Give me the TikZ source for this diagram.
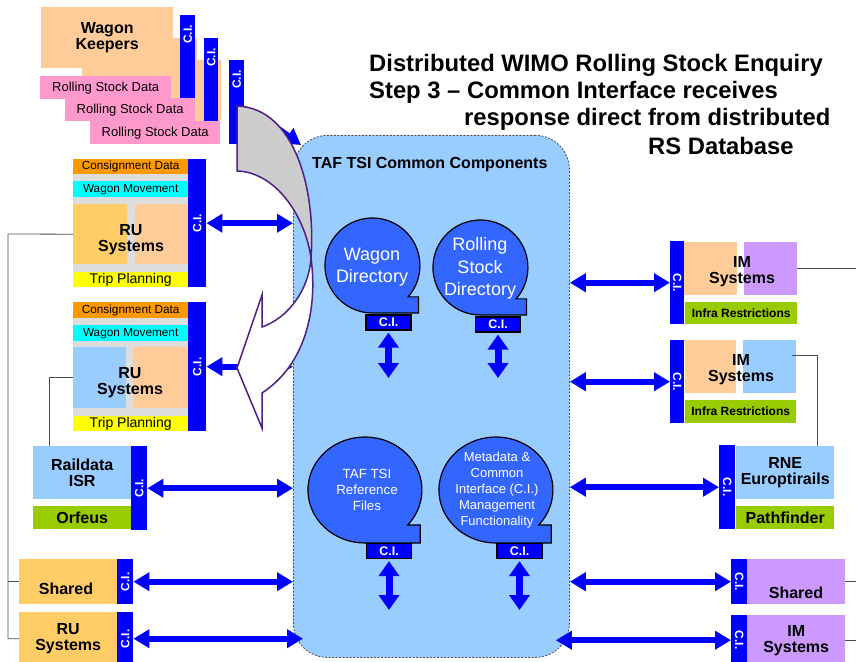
\documentclass[tikz,border=0pt]{standalone}
\usepackage{fontspec}
\setmainfont{Liberation Sans}
\usetikzlibrary{arrows.meta,positioning}
\definecolor{ciblue}{HTML}{0000FF}
\definecolor{peach}{HTML}{FFCC99}
\definecolor{gold}{HTML}{FFCC66}
\definecolor{rspink}{HTML}{FF99CC}
\definecolor{cdorange}{HTML}{FF9900}
\definecolor{wmcyan}{HTML}{00FFFF}
\definecolor{tpyellow}{HTML}{FFFF00}
\definecolor{infragreen}{HTML}{99CC00}
\definecolor{skyblue}{HTML}{99CCFF}
\definecolor{lilac}{HTML}{CC99FF}
\definecolor{bggrey}{HTML}{DDDDDD}
\definecolor{dirblue}{HTML}{3366FF}
\definecolor{curvepurple}{HTML}{4F1F85}
\definecolor{curvegrey}{HTML}{CCCCCC}
\newcommand{\ciup}{\rotatebox{90}{C.I.}}
\newcommand{\cidown}{\rotatebox{-90}{C.I.}}
\newcommand{\dirbubble}[4]{% centre x, centre y, x radius, y radius
  \filldraw[dirshape] ({#1+0.75*#3},{#2+0.66*#4}) arc[start angle=41.3, end angle=-270, x radius=#3, y radius=#4]
    -- ({#1+0.97*#3},{#2+#4}) -- ({#1+0.97*#3},{#2+0.66*#4}) -- cycle;}
\tikzstyle{panel}=[anchor=north west, inner sep=0pt, align=center, text=black]
\tikzstyle{cibar}=[panel, fill=ciblue, text=white, font=\fontsize{12}{12}\selectfont\bfseries]
\tikzstyle{citext}=[inner sep=0pt, text=white, font=\fontsize{12}{12}\selectfont\bfseries]
\tikzstyle{smalltext}=[font=\fontsize{11.8}{13}\selectfont]
\tikzstyle{rstext}=[font=\fontsize{13}{14}\selectfont]
\tikzstyle{boldtext}=[align=center, font=\fontsize{16}{16}\selectfont\bfseries]
\tikzstyle{infratext}=[font=\fontsize{12}{13}\selectfont\bfseries]
\tikzstyle{titletext}=[anchor=west, inner sep=0pt, font=\fontsize{23.8}{26}\selectfont\bfseries]
\tikzstyle{citag}=[draw=black, line width=1.2pt, fill=ciblue, text=white, inner sep=0pt, minimum width=45pt, minimum height=15pt, font=\fontsize{12.5}{12.5}\selectfont\bfseries]
\tikzstyle{dirshape}=[draw=black, line width=1.2pt, fill=dirblue]
\tikzstyle{link}=[draw=black!70, line width=0.8pt]
\tikzstyle{harrow}=[draw=ciblue, line width=6pt, {Triangle[length=16pt,width=18pt]}-{Triangle[length=16pt,width=18pt]}]
\tikzstyle{varrow}=[draw=ciblue, line width=7pt, {Triangle[length=15pt,width=20pt]}-{Triangle[length=15pt,width=20pt]}]
\tikzstyle{turn}=[draw=curvepurple, line width=1.5pt, line join=miter]
\begin{document}
\begin{tikzpicture}[x=1pt, y=-1pt]
\useasboundingbox (0,0) rectangle (856,661);

% heading
\node[titletext] (title1) at (369,65) {Distributed WIMO Rolling Stock Enquiry};
\node[titletext] (title2) at (369,92) {Step 3 – Common Interface receives};
\node[titletext] (title3) at (464,119) {response direct from distributed};
\node[titletext] (title4) at (648,146) {RS Database};

% common components
\node[panel, draw=black!70, dash pattern=on 2pt off 1.5pt, line width=0.8pt, fill=skyblue, rounded corners=34pt, minimum width=276pt, minimum height=522pt] (taf) at (293,135) {};
\node[anchor=west, inner sep=0pt, font=\fontsize{16}{16}\selectfont\bfseries] (taftitle) at (312,165) {TAF TSI Common Components};

\dirbubble{372.5}{265.5}{47.5}{47.5}
\node[text=white, align=center, font=\fontsize{18}{22}\selectfont] (wd) at (372,267) {Wagon\\Directory};
\node[citag] (wdci) at (388.5,322.5) {C.I.};
\dirbubble{480.5}{267.5}{47.5}{47.5}
\node[text=white, align=center, font=\fontsize{18}{22.5}\selectfont] (rsd) at (480,268.5) {Rolling\\Stock\\Directory};
\node[citag] (rsdci) at (498,324.5) {C.I.};
\dirbubble{365}{490}{57}{53}
\node[text=white, align=center, font=\fontsize{13.3}{16}\selectfont] (ref) at (367,490) {TAF TSI\\Reference\\Files};
\node[citag] (refci) at (389,551) {C.I.};
\dirbubble{496}{490}{57}{53}
\node[text=white, align=center, font=\fontsize{13}{16}\selectfont] (meta) at (497,490) {Metadata \&\\Common\\Interface (C.I.)\\Management\\Functionality};
\node[citag] (metaci) at (519.5,551) {C.I.};

\coordinate (wdend) at (388.5,378);
\coordinate (rsdend) at (498,378);
\coordinate (refend) at (389,610);
\coordinate (metaend) at (519.5,610);
\draw[varrow] ([yshift=-2pt]wdci.south) -- (wdend);
\draw[varrow] ([yshift=-2pt]rsdci.south) -- (rsdend);
\draw[varrow] ([yshift=-2pt]refci.south) -- (refend);
\draw[varrow] ([yshift=-2pt]metaci.south) -- (metaend);

% wagon keepers, back to front
\node[panel, fill=peach, minimum width=115pt, minimum height=61pt] (wk3) at (106,60) {};
\node[cibar, minimum width=15pt, minimum height=84pt] (wkci3) at (229,60) {};
\node[citext, below=10pt of wkci3.north] {\ciup};
\node[panel, rstext, fill=rspink, minimum width=130pt, minimum height=23pt] (rs3) at (90,121) {Rolling Stock Data};
\node[panel, fill=peach, minimum width=115pt, minimum height=60pt] (wk2) at (82,38) {};
\node[cibar, minimum width=14pt, minimum height=83pt] (wkci2) at (204,38) {};
\node[citext, below=10pt of wkci2.north] {\ciup};
\node[panel, rstext, fill=rspink, minimum width=130pt, minimum height=23pt] (rs2) at (65,98) {Rolling Stock Data};
\node[panel, boldtext, fill=peach, minimum width=132pt, minimum height=61pt] (wk1) at (41,7) {Wagon\\Keepers};
\node[cibar, minimum width=15pt, minimum height=83pt] (wkci1) at (180,15) {};
\node[citext, below=10pt of wkci1.north] {\ciup};
\node[panel, rstext, fill=rspink, minimum width=131pt, minimum height=23pt] (rs1) at (40,76) {Rolling Stock Data};

% RU systems
\node[panel, fill=bggrey, minimum width=115pt, minimum height=128pt] (ru1bg) at (73,159) {};
\node[panel, smalltext, fill=cdorange, minimum width=115pt, minimum height=15pt] (cd1) at (73,159) {Consignment Data};
\node[panel, smalltext, fill=wmcyan, minimum width=115pt, minimum height=16pt] (wm1) at (73,181) {Wagon Movement};
\node[panel, fill=gold, minimum width=54pt, minimum height=60pt] (ru1a) at (73,204) {};
\node[panel, fill=peach, minimum width=53pt, minimum height=60pt] (ru1b) at (135,204) {};
\node[boldtext] (ru1) at (131,240) {RU\\Systems};
\node[panel, fill=tpyellow, minimum width=115pt, minimum height=15pt, font=\fontsize{14}{14}\selectfont] (tp1) at (73,272) {Trip Planning};
\node[cibar, minimum width=18pt, minimum height=128pt] (ruci1) at (188,159) {\ciup};

\node[panel, fill=bggrey, minimum width=115pt, minimum height=129pt] (ru2bg) at (73,302) {};
\node[panel, smalltext, fill=cdorange, minimum width=115pt, minimum height=16pt] (cd2) at (73,302) {Consignment Data};
\node[panel, smalltext, fill=wmcyan, minimum width=115pt, minimum height=16pt] (wm2) at (73,325) {Wagon Movement};
\node[panel, fill=skyblue, minimum width=53pt, minimum height=61pt] (ru2a) at (73,347) {};
\node[panel, fill=peach, minimum width=55pt, minimum height=61pt] (ru2b) at (133,347) {};
\node[boldtext] (ru2) at (130,383) {RU\\Systems};
\node[panel, fill=tpyellow, minimum width=115pt, minimum height=15pt, font=\fontsize{14}{14}\selectfont] (tp2) at (73,416) {Trip Planning};
\node[cibar, minimum width=18pt, minimum height=129pt] (ruci2) at (188,302) {\ciup};

\node[panel, boldtext, fill=skyblue, minimum width=98pt, minimum height=53pt] (rd) at (33,446) {Raildata\\ISR};
\node[panel, boldtext, fill=infragreen, minimum width=98pt, minimum height=23pt] (orf) at (33,506) {Orfeus};
\node[cibar, minimum width=16pt, minimum height=84pt] (rdci) at (131,446) {\ciup};

\node[panel, fill=gold, minimum width=98pt, minimum height=45pt] (shl) at (19,559) {};
\node[boldtext] (shltext) at (66,589) {Shared};
\node[cibar, minimum width=16pt, minimum height=45pt] (shlci) at (117,559) {\ciup};
\node[panel, boldtext, fill=gold, minimum width=98pt, minimum height=53pt] (rub) at (19,612) {RU\\Systems};
\node[cibar, minimum width=16pt, minimum height=53pt] (rubci) at (117,612) {\ciup};

% IM systems
\node[cibar, minimum width=14pt, minimum height=83pt] (imci1) at (670,241) {\cidown};
\node[panel, fill=peach, minimum width=53pt, minimum height=53pt] (im1a) at (684,242) {};
\node[panel, fill=lilac, minimum width=53pt, minimum height=53pt] (im1b) at (744,242) {};
\node[boldtext] (im1) at (742,272) {IM\\Systems};
\node[panel, infratext, fill=infragreen, minimum width=112pt, minimum height=22pt] (ir1) at (685,302) {Infra Restrictions};

\node[cibar, minimum width=14pt, minimum height=83pt] (imci2) at (670,340) {\cidown};
\node[panel, fill=peach, minimum width=51pt, minimum height=53pt] (im2a) at (685,340) {};
\node[panel, fill=skyblue, minimum width=53pt, minimum height=53pt] (im2b) at (743,340) {};
\node[boldtext] (im2) at (741,370) {IM\\Systems};
\node[panel, infratext, fill=infragreen, minimum width=111pt, minimum height=23pt] (ir2) at (685,400) {Infra Restrictions};

\node[cibar, minimum width=16pt, minimum height=84pt] (rneci) at (719,445) {\cidown};
\node[panel, boldtext, fill=skyblue, minimum width=98pt, minimum height=53pt] (rne) at (736,446) {RNE\\Europtirails};
\node[panel, boldtext, fill=infragreen, minimum width=98pt, minimum height=23pt] (pf) at (736,506) {Pathfinder};

\node[cibar, minimum width=16pt, minimum height=45pt] (shrci) at (731,559) {\cidown};
\node[panel, fill=lilac, minimum width=98pt, minimum height=45pt] (shr) at (747,559) {};
\node[boldtext] (shrtext) at (796,593) {Shared};
\node[cibar, minimum width=16pt, minimum height=50pt] (imbci) at (731,615) {\cidown};
\node[panel, boldtext, fill=lilac, minimum width=98pt, minimum height=50pt] (imb) at (747,615) {IM\\Systems};

% links
\coordinate (lbus) at (8,234);
\draw[link] (ru1a.west) -- (lbus) |- (rub.west);
\draw[link] (lbus |- shl.west) -- (shl.west);
\coordinate (rdtop) at (49,446);
\draw[link] (ru2a.west) -| (rdtop);
\coordinate (rbus) at (856,0);
\draw[link] (im1b.east) -- (im1b.east -| rbus);
\coordinate (im2out) at (792,355);
\coordinate (rnetop) at (817,446);
\draw[link] (im2out) -| (rnetop);
\draw[link] (shr.east) -- (shr.east -| rbus);
\draw[link] (imb.east) -- (imb.east -| rbus);

% interface arrows
\path (wkci3.east) ++(16,14) coordinate (wkstart);
\path (taf.north west) ++(8,10) coordinate (wkend);
\draw[draw=ciblue, line width=6pt, -{Triangle[length=16pt,width=18pt]}] (wkstart) -- (wkend);
\draw[harrow] (ruci1.east) -- (ruci1.east -| taf.west);
\draw[harrow] (ruci2.east) -- (ruci2.east -| taf.west);
\draw[harrow] (rdci.east) -- (rdci.east -| taf.west);
\draw[harrow] (shlci.east) -- (shlci.east -| taf.west);
\path (rubci.east -| taf.west) ++(10,0) coordinate (rubend);
\draw[harrow] (rubci.east) -- (rubend);
\draw[harrow] (taf.east |- imci1.west) -- (imci1.west);
\draw[harrow] (taf.east |- imci2.west) -- (imci2.west);
\draw[harrow] (taf.east |- rneci.west) -- (rneci.west);
\draw[harrow] (taf.east |- shrci.west) -- (shrci.west);
\path (taf.east |- imbci.west) ++(-14,0) coordinate (imbend);
\draw[harrow] (imbend) -- (imbci.west);

% turning arrow
\filldraw[turn, fill=curvegrey] (237,106) .. controls (295,108) and (316,190) .. (311,258)
  .. controls (305,215) and (275,172) .. (237,171) -- cycle;
\filldraw[turn, fill=white] (311,258) .. controls (309,290) and (288,318) .. (262,327)
  -- (262,295) -- (237,368) -- (262,428) -- (262,393)
  .. controls (305,365) and (318,310) .. (311,258) -- cycle;
\end{tikzpicture}
\end{document}
